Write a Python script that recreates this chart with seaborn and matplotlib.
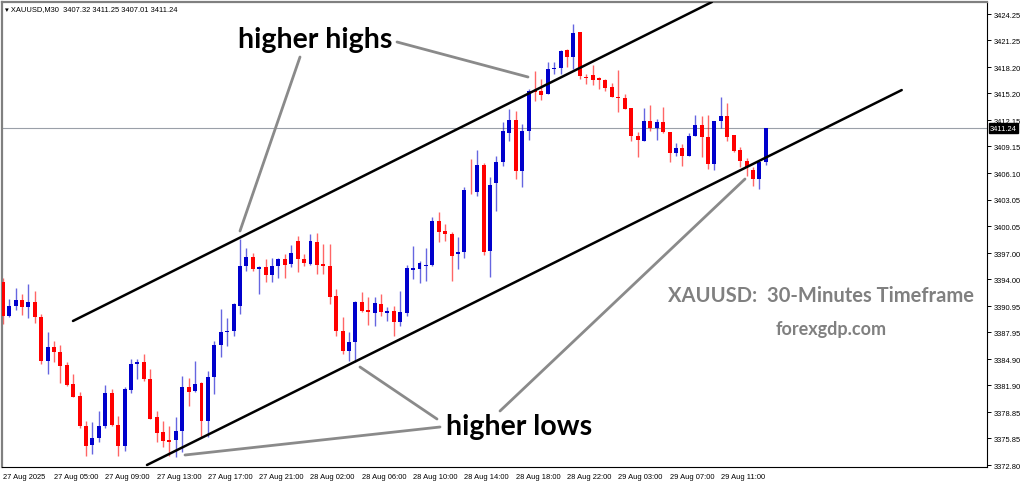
import numpy as np
import pandas as pd

import matplotlib
matplotlib.use("Agg")

import matplotlib.pyplot as plt
import seaborn as sns

# ---------------- DATA (XAUUSD M30) ----------------
opens = [3393.65, 3389.77, 3390.98, 3391.63, 3390.80, 3391.37, 3389.66, 3384.71, 3386.23, 3385.66,
         3384.20, 3382.10, 3380.72, 3377.30, 3375.10, 3375.85, 3377.22, 3381.02, 3377.40, 3375.00,
         3381.37, 3384.33, 3384.60, 3382.62, 3378.25, 3376.54, 3375.70, 3375.70, 3376.73, 3381.75,
         3381.29, 3382.17, 3377.79, 3382.81, 3386.50, 3388.00, 3388.13, 3390.98, 3395.55, 3396.50,
         3395.20, 3395.44, 3394.49, 3395.48, 3396.31, 3395.74, 3398.41, 3396.31, 3395.74, 3398.29,
         3395.74, 3395.55, 3392.13, 3388.14, 3385.86, 3386.89, 3391.45, 3390.50, 3390.12, 3391.18,
         3390.20, 3390.42, 3389.09, 3390.12, 3395.10, 3395.17, 3395.52, 3395.63, 3400.69, 3399.55,
         3399.17, 3396.85, 3397.08, 3404.00, 3403.91, 3407.06, 3397.25, 3404.97, 3407.40, 3410.64,
         3412.20, 3406.30, 3410.94, 3415.60, 3415.43, 3415.12, 3417.94, 3418.05, 3420.14, 3419.38,
         3422.23, 3417.10, 3417.33, 3416.91, 3416.76, 3415.96, 3414.82, 3414.67, 3413.53, 3410.37,
         3409.80, 3412.01, 3411.21, 3411.89, 3410.75, 3408.39, 3408.93, 3408.09, 3410.30, 3411.59,
         3410.18, 3407.14, 3412.08, 3412.58, 3410.45, 3408.77, 3407.44, 3406.46, 3405.43, 3407.32]
highs = [3394.20, 3391.80, 3392.96, 3392.28, 3393.46, 3392.70, 3390.04, 3387.94, 3386.99, 3386.50,
         3384.52, 3383.19, 3381.10, 3377.87, 3377.68, 3379.00, 3381.93, 3381.55, 3378.40, 3381.67,
         3384.90, 3384.90, 3385.47, 3383.76, 3379.00, 3377.87, 3377.30, 3378.25, 3383.00, 3382.80,
         3384.71, 3382.24, 3383.57, 3386.99, 3390.60, 3389.54, 3391.29, 3398.59, 3397.52, 3396.99,
         3395.50, 3396.31, 3396.39, 3396.39, 3396.90, 3397.91, 3398.98, 3396.90, 3399.17, 3399.28,
         3398.03, 3398.03, 3392.89, 3389.66, 3388.03, 3391.56, 3392.51, 3391.94, 3391.94, 3392.32,
         3390.80, 3390.92, 3392.70, 3395.63, 3397.76, 3396.12, 3397.53, 3401.07, 3401.64, 3400.31,
         3399.36, 3398.79, 3404.50, 3407.71, 3408.77, 3407.25, 3405.62, 3408.09, 3411.89, 3413.41,
         3413.22, 3411.70, 3415.69, 3417.71, 3416.84, 3418.81, 3418.81, 3420.18, 3420.26, 3423.11,
         3422.23, 3417.41, 3418.43, 3417.03, 3416.84, 3416.38, 3417.90, 3415.12, 3413.53, 3410.83,
         3413.49, 3413.91, 3412.27, 3413.60, 3410.83, 3409.50, 3409.42, 3410.68, 3412.73, 3412.58,
         3412.73, 3412.08, 3414.74, 3414.10, 3410.45, 3409.04, 3407.79, 3406.76, 3407.52, 3411.25]
lows = [3388.90, 3389.65, 3390.49, 3389.92, 3389.54, 3388.97, 3384.33, 3383.19, 3384.60, 3382.16,
        3381.86, 3380.53, 3377.10, 3373.88, 3374.07, 3375.40, 3376.99, 3377.30, 3373.88, 3374.45,
        3381.02, 3382.60, 3382.43, 3378.06, 3375.40, 3374.83, 3373.88, 3373.69, 3374.26, 3379.58,
        3381.10, 3375.97, 3375.97, 3380.90, 3385.10, 3386.43, 3387.56, 3390.04, 3394.98, 3394.98,
        3392.30, 3393.65, 3393.65, 3394.11, 3394.11, 3395.36, 3394.87, 3395.48, 3395.63, 3394.60,
        3394.60, 3391.18, 3387.57, 3385.48, 3384.72, 3384.53, 3390.31, 3388.82, 3388.63, 3389.77,
        3389.30, 3387.57, 3388.71, 3389.85, 3394.03, 3393.58, 3393.84, 3395.48, 3398.22, 3398.41,
        3393.84, 3395.17, 3396.38, 3403.72, 3403.53, 3396.76, 3394.21, 3401.82, 3406.95, 3409.80,
        3405.43, 3404.48, 3409.92, 3414.36, 3414.48, 3415.12, 3417.41, 3417.41, 3418.17, 3417.98,
        3416.84, 3416.27, 3416.15, 3415.70, 3415.50, 3414.74, 3413.03, 3413.41, 3409.80, 3407.90,
        3409.80, 3410.94, 3409.92, 3410.68, 3407.33, 3408.01, 3406.95, 3408.09, 3410.30, 3407.90,
        3406.57, 3406.49, 3411.21, 3409.73, 3408.55, 3406.76, 3405.81, 3404.67, 3404.29, 3407.01]
closes = [3389.77, 3390.98, 3391.63, 3390.80, 3391.37, 3389.66, 3384.71, 3386.31, 3385.66, 3384.07,
          3381.97, 3380.60, 3377.30, 3375.00, 3375.85, 3377.22, 3381.02, 3377.37, 3375.00, 3381.55,
          3384.33, 3384.60, 3382.62, 3378.13, 3376.46, 3375.59, 3375.40, 3376.73, 3381.75, 3381.10,
          3382.06, 3377.79, 3382.81, 3386.50, 3387.94, 3388.10, 3391.18, 3395.55, 3396.50, 3395.17,
          3395.40, 3394.49, 3395.48, 3396.31, 3395.63, 3397.00, 3396.31, 3395.86, 3398.41, 3395.63,
          3395.52, 3391.94, 3388.14, 3385.86, 3386.89, 3391.45, 3390.42, 3390.23, 3391.30, 3390.31,
          3390.40, 3389.09, 3390.23, 3395.25, 3395.33, 3395.82, 3395.67, 3400.69, 3399.36, 3399.17,
          3396.69, 3397.15, 3404.17, 3403.90, 3407.06, 3397.06, 3404.74, 3407.33, 3410.94, 3412.20,
          3406.30, 3410.94, 3415.50, 3415.40, 3415.00, 3417.98, 3418.09, 3419.99, 3419.38, 3422.04,
          3417.22, 3416.90, 3416.76, 3416.76, 3415.77, 3414.74, 3414.67, 3413.41, 3410.30, 3409.92,
          3412.01, 3411.21, 3411.89, 3410.75, 3408.39, 3408.93, 3408.09, 3410.37, 3411.59, 3410.18,
          3407.14, 3412.08, 3412.58, 3410.26, 3408.66, 3407.44, 3406.76, 3405.43, 3407.34, 3411.24]

price_ticks = [3424.25, 3421.25, 3418.20, 3415.20, 3412.15, 3409.15, 3406.10, 3403.05, 3400.05,
               3397.00, 3394.00, 3390.95, 3387.95, 3384.90, 3381.90, 3378.85, 3375.85, 3372.80]
time_labels = ["27 Aug 2025", "27 Aug 05:00", "27 Aug 09:00", "27 Aug 13:00", "27 Aug 17:00",
               "27 Aug 21:00", "28 Aug 02:00", "28 Aug 06:00", "28 Aug 10:00", "28 Aug 14:00",
               "28 Aug 18:00", "28 Aug 22:00", "29 Aug 03:00", "29 Aug 07:00", "29 Aug 11:00"]
last_price = 3411.24

# channel lines (bar index, price)
upper_channel = ([10.96, 110.6], [3389.25, 3425.62])
lower_channel = ([22.5, 140.2], [3372.83, 3415.58])

df = pd.DataFrame({"open": opens, "high": highs, "low": lows, "close": closes})
df["idx"] = np.arange(len(df))
df["bull"] = df["close"] >= df["open"]

sns.set_theme(style="white")
plt.rcParams["font.family"] = ["Liberation Sans", "DejaVu Sans"]

W, H = 1024, 485
fig = plt.figure(figsize=(W / 100, H / 100), dpi=100)
ax = fig.add_axes([2 / W, 1 - 468 / H, 985 / W, 465 / H])

BLUE = "#0000cc"
RED = "#ff0000"
colors = np.where(df["bull"], BLUE, RED)

ax.vlines(df["idx"], df["low"], df["high"], colors=colors, linewidth=1.0, alpha=0.6, zorder=2)
body_lo = df[["open", "close"]].min(axis=1)
body_h = (df["open"] - df["close"]).abs().clip(lower=0.08)
ax.bar(df["idx"], body_h, bottom=body_lo, width=0.62, color=colors, linewidth=0, zorder=3)

ax.axhline(last_price, color="#9aa0a8", linewidth=0.8, zorder=1)

ax.plot(*upper_channel, color="black", linewidth=1.8, zorder=4)
ax.plot(*lower_channel, color="black", linewidth=1.8, zorder=4)

ax.set_xlim(-0.11, 153.5)
ax.set_ylim(3372.6, 3425.62)

# axes / ticks like the terminal
ax.yaxis.tick_right()
ax.set_yticks(price_ticks)
ax.set_yticklabels([f"{p:.2f}" for p in price_ticks])
ax.set_xticks(np.arange(len(time_labels)) * 8)
ax.set_xticklabels(time_labels, ha="left")
ax.tick_params(axis="both", which="both", length=3, width=0.7, color="black",
               labelsize=5.4, pad=1.5, labelcolor="black")
for side in ["top", "left"]:
    ax.spines[side].set_color("#808080")
    ax.spines[side].set_linewidth(1.6)
for side in ["right", "bottom"]:
    ax.spines[side].set_color("black")
    ax.spines[side].set_linewidth(0.8)

ax.text(1.003, last_price, f"{last_price:.2f}", transform=ax.get_yaxis_transform(),
        fontsize=5.4, color="white", va="center", ha="left",
        bbox=dict(boxstyle="square,pad=0.15", fc="black", ec="black"), zorder=10)

fig.text(5 / W, 1 - 10 / H, "\u25be XAUUSD,M30  3407.32 3411.25 3407.01 3411.24",
         fontsize=5.4, color="black", va="center", ha="left")


def px(x, y):
    return x / W, 1 - y / H


# annotation pointers
pointers = [((300, 58), (240, 232)), ((397, 43), (528, 78)),
            ((437, 420), (360, 368)), ((440, 428), (185, 456)), ((500, 412), (745, 180))]
for (x0, y0), (x1, y1) in pointers:
    a, b = px(x0, y0)
    c, d = px(x1, y1)
    fig.add_artist(plt.Line2D([a, c], [b, d], color="#8a8a8a", linewidth=2.0))

fig.text(*px(238, 40), "higher highs", fontsize=20.5, fontweight="bold", family="Lato",
         color="black", va="center", ha="left")
fig.text(*px(446, 427), "higher lows", fontsize=20.5, fontweight="bold", family="Lato",
         color="black", va="center", ha="left")
fig.text(*px(821, 296), "XAUUSD:  30-Minutes Timeframe", fontsize=14.5, fontweight="bold",
         family="Lato", color="#808080", va="center", ha="center")
fig.text(*px(831, 330), "forexgdp.com", fontsize=13, fontweight="bold",
         family="Lato", color="#808080", va="center", ha="center")

plt.savefig("out.png", dpi=100)
plt.close()
